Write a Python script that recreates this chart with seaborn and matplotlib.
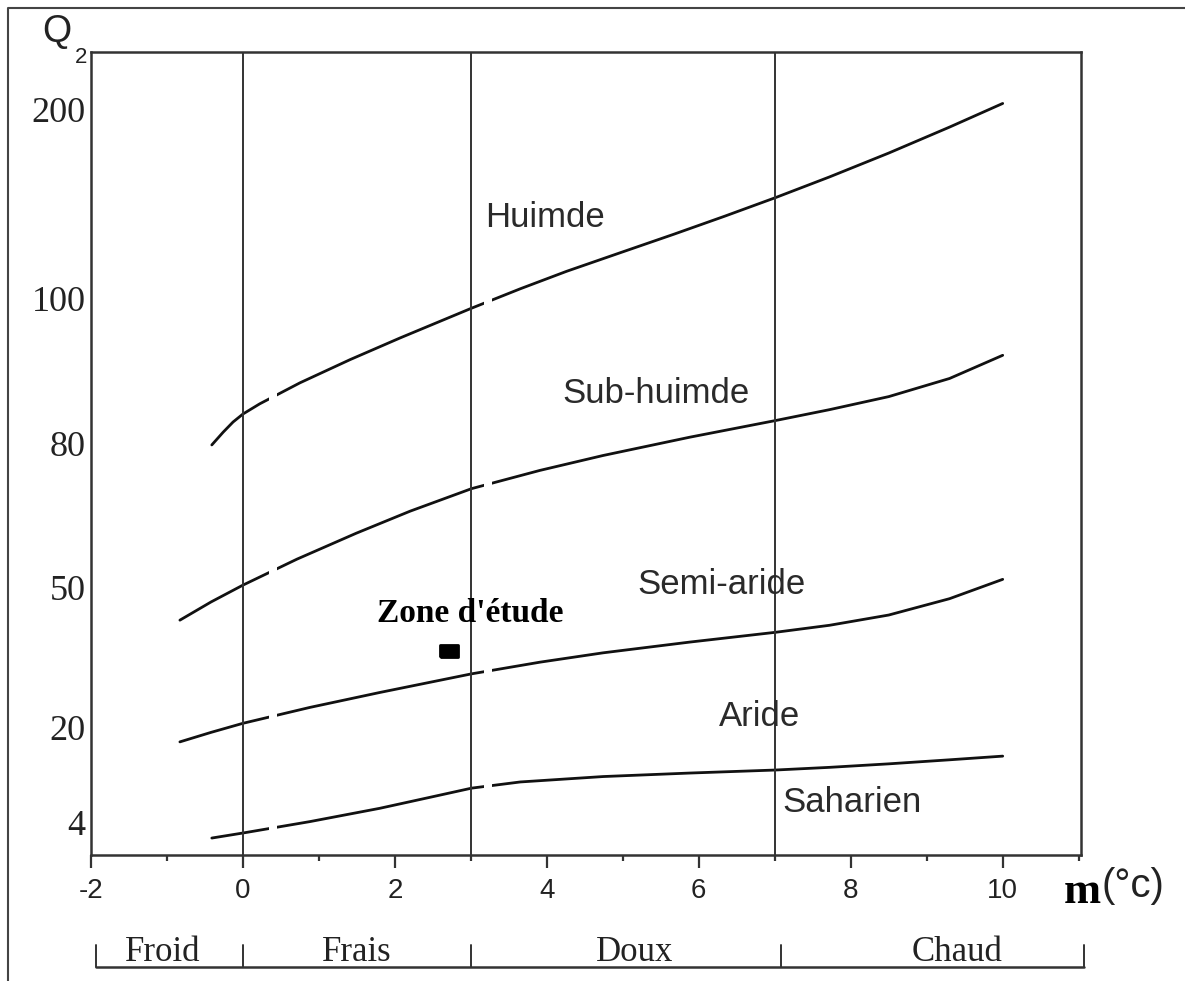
import numpy as np
import pandas as pd
import matplotlib
matplotlib.use("Agg")
import matplotlib.pyplot as plt
import matplotlib.transforms as mtransforms
from matplotlib.lines import Line2D
from matplotlib.ticker import MultipleLocator
import seaborn as sns

# ---------------- data ----------------
q2_ticks = [4, 20, 50, 80, 100, 200]
q2_labels = ["4", "20", "50", "80", "100", "200"]
x_ticks = [-2, 0, 2, 4, 6, 8, 10]
x_labels = ["-2", "0", "2", "4", "6", "8", "10"]

# the climagram's own (non-linear) Q2 axis: Q2 value -> relative height
scale_q = [0, 4, 20, 50, 80, 100, 200, 231]
scale_pos = [0, 33, 128, 268, 412, 557, 745, 803]

humide_m = [-0.41, -0.26, -0.13, 0.0, 0.22, 0.75, 1.41, 2.07, 3.01, 3.65,
            4.26, 4.96, 5.67, 6.34, 7.01, 7.72, 8.5, 9.3, 10.0]
humide_q = [79.6, 81.5, 82.9, 84.0, 85.4, 88.3, 91.5, 94.5, 98.6, 104.9,
            114.2, 124.0, 133.9, 143.5, 153.4, 164.4, 177.1, 190.9, 203.5]

subhumide_m = [-0.83, -0.42, 0.0, 0.71, 1.49, 2.2, 3.01, 3.91, 4.74, 5.88,
               7.01, 7.72, 8.5, 9.3, 10.0]
subhumide_q = [42.9, 46.8, 50.4, 55.8, 61.2, 65.8, 70.5, 74.3, 77.4, 80.8,
               83.1, 84.6, 86.4, 88.9, 92.1]

semiaride_m = [-0.83, -0.42, 0.0, 0.88, 1.8, 3.01, 3.91, 4.74, 5.88, 7.01,
               7.72, 8.5, 9.3, 10.0]
semiaride_q = [17.5, 19.1, 20.8, 24.2, 27.4, 31.4, 33.9, 35.9, 38.2, 40.3,
               41.8, 44.0, 47.5, 51.6]

aride_m = [-0.41, 0.0, 0.88, 1.8, 2.46, 3.01, 3.65, 4.74, 5.88, 7.01,
           7.72, 8.5, 9.3, 10.0]
aride_q = [2.06, 2.67, 4.07, 6.31, 8.16, 9.71, 10.75, 11.66, 12.25, 12.76,
           13.21, 13.80, 14.48, 15.10]

winter_limits = [0, 3, 7]            # vertical boundaries of m (°C)
study_m = [2.71]
study_q = [36.3]

class_names = ["Froid", "Frais", "Doux", "Chaud"]
class_centers = [-1.05, 1.5, 5.15, 9.4]
class_bounds = [-1.93, 0, 3, 7.08, 11.07]

gaps_m = [(0.34, 0.45), (3.17, 3.28)]

zone_names = ["Huimde", "Sub-huimde", "Semi-aride", "Aride", "Saharien"]
zone_pos = [(0.4586, 0.7945), (0.5707, 0.5753), (0.6364, 0.3375),
            (0.6753, 0.1719), (0.7692, 0.066)]

# ---------------- scale ----------------
SQ = np.array(scale_q, float)
SP = np.array(scale_pos, float)


def _extrap(v, xs, ys):
    v = np.asarray(v, dtype=float)
    out = np.interp(v, xs, ys)
    lo_s = (ys[1] - ys[0]) / (xs[1] - xs[0])
    hi_s = (ys[-1] - ys[-2]) / (xs[-1] - xs[-2])
    out = np.where(v < xs[0], ys[0] + (v - xs[0]) * lo_s, out)
    out = np.where(v > xs[-1], ys[-1] + (v - xs[-1]) * hi_s, out)
    return out


def fwd(q):
    return _extrap(q, SQ, SP)


def inv(p):
    return _extrap(p, SP, SQ)


# ---------------- figure ----------------
sns.set_theme(style="white")
plt.rcParams["font.family"] = ["Liberation Sans", "DejaVu Sans"]

fig = plt.figure(figsize=(11.85, 9.81), dpi=100)
ax = fig.add_axes([0.0768, 0.1284, 0.8354, 0.8186])
ax.set_yscale("function", functions=(fwd, inv))

curves = pd.concat([
    pd.DataFrame({"m": humide_m, "q": humide_q, "c": "hum"}),
    pd.DataFrame({"m": subhumide_m, "q": subhumide_q, "c": "sub"}),
    pd.DataFrame({"m": semiaride_m, "q": semiaride_q, "c": "semi"}),
    pd.DataFrame({"m": aride_m, "q": aride_q, "c": "ari"}),
])
sns.lineplot(data=curves, x="m", y="q", units="c", estimator=None,
             color="#111111", lw=2.0, ax=ax, zorder=2.1, sort=False)
for ln in ax.get_lines():
    ln.set_solid_joinstyle("round")
    ln.set_solid_capstyle("round")

for a, b in gaps_m:
    ax.axvspan(a, b, ymin=0.005, ymax=0.995, color="white", lw=0, zorder=2.2)

for xv in winter_limits:
    ax.axvline(xv, color="#333333", lw=1.4, zorder=3)

# study zone marker (rounded rectangle)
rr = [(-1.0, -0.62), (1.0, -0.62), (1.0, 0.62), (-1.0, 0.62), (-1.0, -0.62)]
sns.scatterplot(x=study_m, y=study_q, marker=rr, s=170, color="black",
                edgecolor="black", linewidth=2.0, ax=ax, zorder=5)

ax.text(0.3833, 0.3014, "Zone d'étude", transform=ax.transAxes,
        ha="center", va="center", fontsize=24, fontweight="bold",
        family="Liberation Serif", color="black", zorder=6)

for name, (fx, fy) in zip(zone_names, zone_pos):
    ax.text(fx, fy, name, transform=ax.transAxes, ha="center", va="center",
            fontsize=25, family="Liberation Sans", color="#2a2a2a", zorder=6)

ax.set_xlim(-2, 11.03)
ax.set_ylim(0, 231)
ax.set_xticks(x_ticks)
ax.set_xticklabels(x_labels, fontsize=20, family="Liberation Sans", color="#222222")
ax.xaxis.set_minor_locator(MultipleLocator(1))
ax.set_yticks(q2_ticks)
ax.set_yticklabels(q2_labels, fontsize=26, family="Liberation Serif", color="#222222")
ax.yaxis.set_minor_locator(matplotlib.ticker.NullLocator())
ax.tick_params(axis="x", which="major", direction="out", length=9.5, width=1.6,
               color="#333333", pad=7, bottom=True)
ax.tick_params(axis="x", which="minor", direction="out", length=4.5, width=1.6,
               color="#333333", bottom=True)
ax.tick_params(axis="y", length=0, pad=4)
ax.set_xlabel("")
ax.set_ylabel("")
for sp in ax.spines.values():
    sp.set_visible(True)
    sp.set_color("#333333")
    sp.set_linewidth(1.8)

# axis titles
fig.text(42 / 1185, 1 - 42 / 981, "Q", fontsize=27, family="Liberation Sans",
         color="#222222", va="baseline", ha="left")
fig.text(75 / 1185, 1 - 63 / 981, "2", fontsize=16, family="Liberation Sans",
         color="#222222", va="baseline", ha="left")
fig.text(1064 / 1185, 1 - 903 / 981, "m", fontsize=32, fontweight="bold",
         family="Liberation Serif", color="black", va="baseline", ha="left")
fig.text(1102 / 1185, 1 - 897 / 981, "(°c)", fontsize=29, family="Liberation Sans",
         color="#222222", va="baseline", ha="left")

# bottom classification bracket
blend = mtransforms.blended_transform_factory(ax.transData, fig.transFigure)
y_line = 1 - 967 / 981
y_top = 1 - 945 / 981
ax.plot([class_bounds[0], class_bounds[-1]], [y_line, y_line], transform=blend,
        color="#333333", lw=1.8, clip_on=False)
for b in class_bounds:
    ax.plot([b, b], [y_line, y_top], transform=blend, color="#333333",
            lw=1.4, clip_on=False)
for name, c in zip(class_names, class_centers):
    ax.text(c, 1 - 961 / 981, name, transform=blend, ha="center", va="baseline",
            fontsize=25, family="Liberation Serif", color="#222222")

# outer frame of the picture
fig.add_artist(Line2D([8 / 1185, 8 / 1185, 1.0], [0.0, 1 - 8 / 981, 1 - 8 / 981],
                      transform=fig.transFigure, color="#444444", lw=1.5))

fig.savefig("out.png", dpi=100, facecolor="white")
